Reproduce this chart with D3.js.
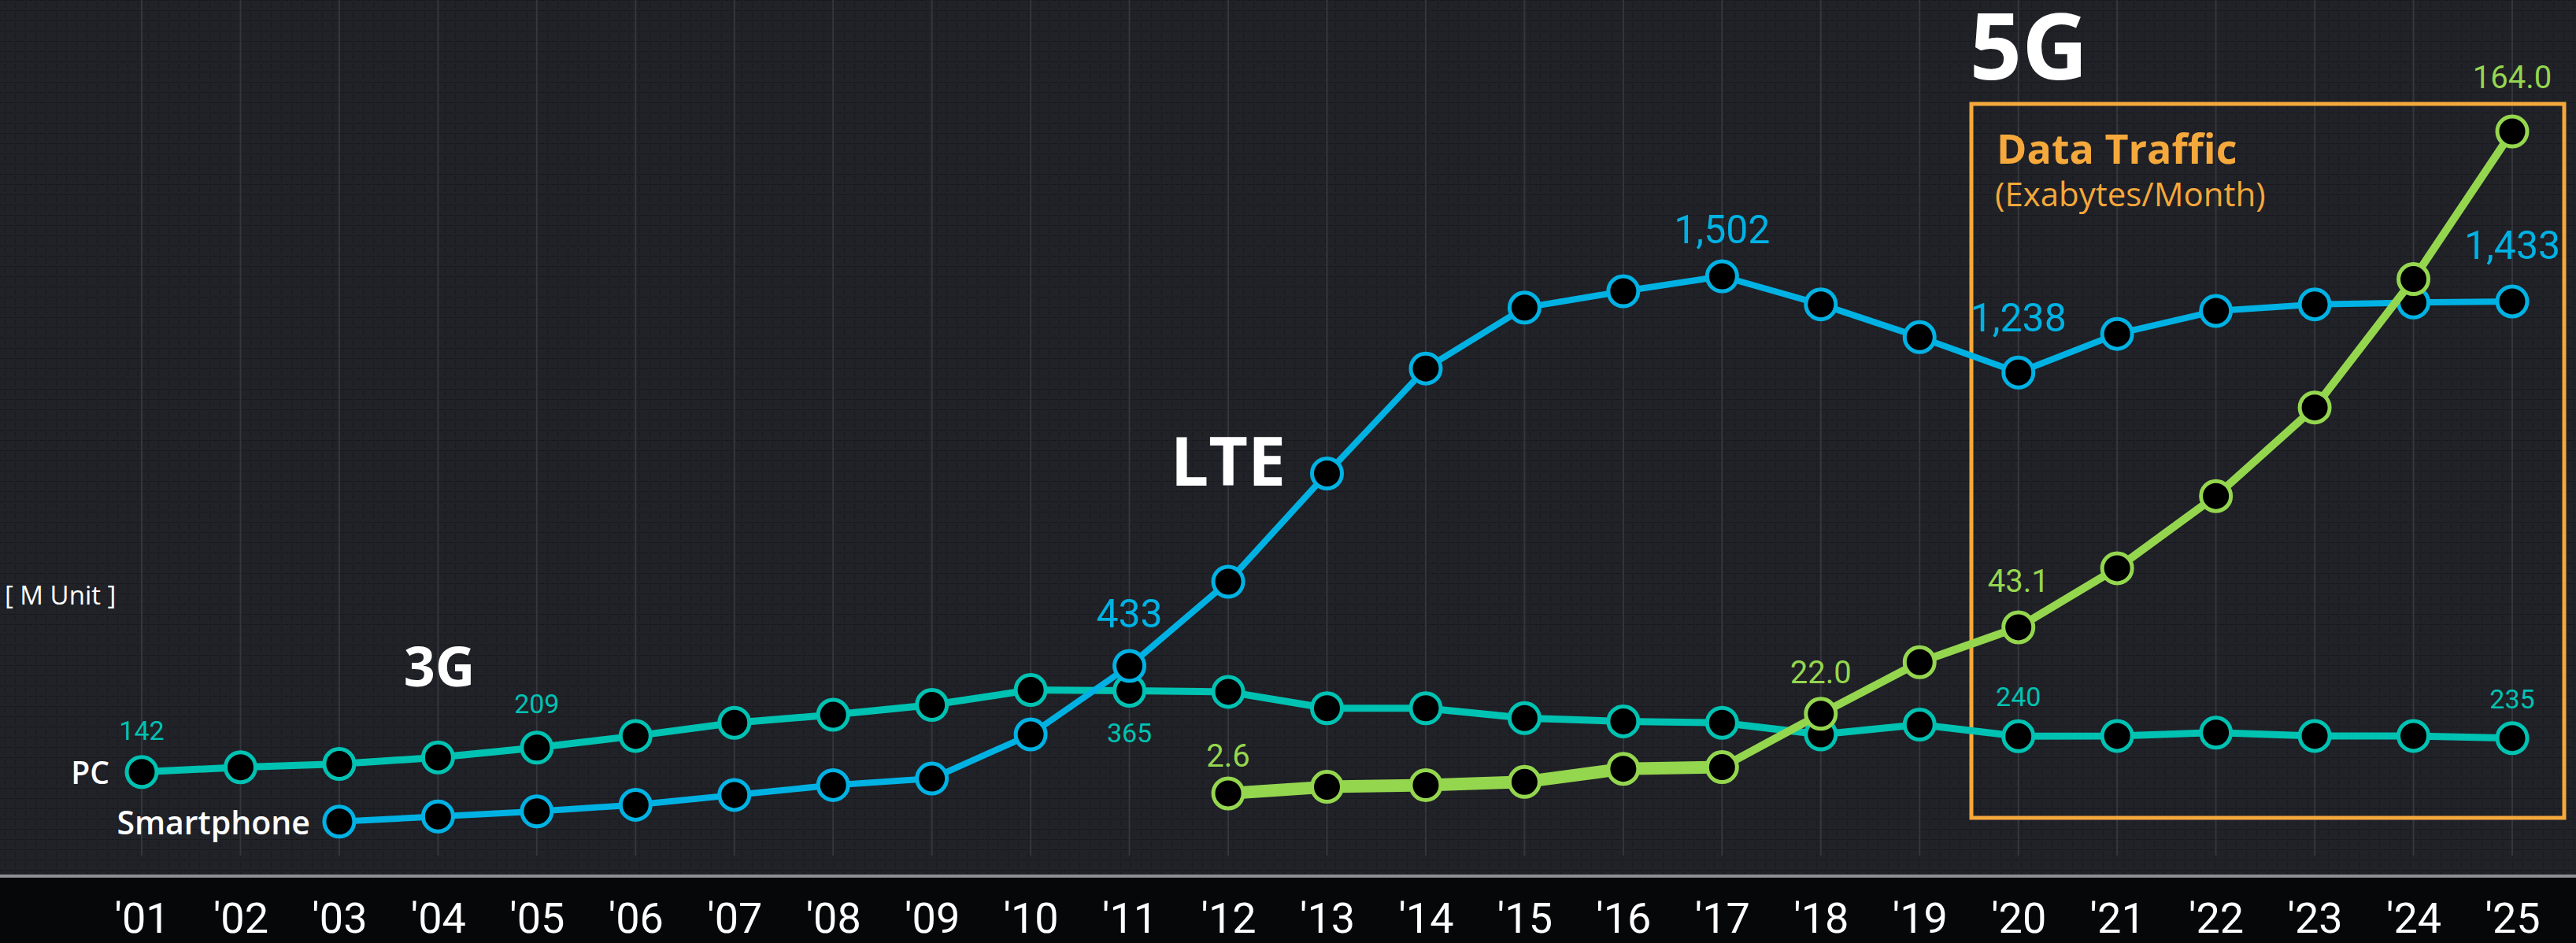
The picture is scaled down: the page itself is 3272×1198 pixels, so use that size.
<!DOCTYPE html>
<html>
<head>
<meta charset="utf-8">
<script src="https://cdn.jsdelivr.net/npm/d3@7"></script>
<style>
  html, body { margin: 0; padding: 0; background: #1f2127; overflow: hidden; }
  svg { display: block; }
</style>
</head>
<body>
<div class="chart"></div>
<script>
// data
var years = ["'01","'02","'03","'04","'05","'06","'07","'08","'09","'10","'11","'12","'13",
             "'14","'15","'16","'17","'18","'19","'20","'21","'22","'23","'24","'25"];

// PC shipments, M unit (2001-2025)
var pc = [142,155,164,182,209,241,277,299,326,367,365,362,317,317,290,281,277,245,272,240,241,250,241,241,235];

// smartphone shipments, M unit (2003-2025)
var phone = [null,null,6,20,34,52,79,106,124,245,433,664,961,1249,1416,1461,1502,1425,1335,1238,1344,1407,1425,1430,1433];

// data traffic, exabytes / month (2012-2025)
var traffic = [null,null,null,null,null,null,null,null,null,null,null,2.6,4.2,4.6,5.4,8.6,9.0,22.0,34.6,43.1,57.5,75.1,96.7,128,164.0];

// which points carry a value label
var pcLabelled = [0,4,10,19,24];
var phoneLabelled = [10,16,19,24];
var trafficLabelled = [11,17,19,24];

var W = 3272, H = 1198;

var svg = d3.select("div.chart")
            .append("svg")
            .attr("width", W)
            .attr("height", H);

// faint woven texture of the background
var defs = svg.append("defs");
var pat = defs.append("pattern")
    .attr("id", "grain")
    .attr("patternUnits", "userSpaceOnUse")
    .attr("width", 13)
    .attr("height", 13);
pat.append("rect").attr("width", 13).attr("height", 13).attr("fill", "#202228");
pat.append("line").attr("x1", 0).attr("x2", 13).attr("y1", 0.5).attr("y2", 0.5)
   .attr("stroke", "#15171a").attr("stroke-width", 1).attr("stroke-dasharray", "2,1");
pat.append("line").attr("x1", 6.5).attr("x2", 6.5).attr("y1", 3).attr("y2", 10)
   .attr("stroke", "#17191d").attr("stroke-width", 1.5).attr("stroke-dasharray", "2,1");

svg.append("rect")
   .attr("width", W).attr("height", 1112)
   .attr("fill", "url(#grain)");

// scales
var x = d3.scalePoint()
    .domain(years)
    .range([180, 3191]);

var yUnit = d3.scaleLinear()
    .domain([0, 1502])
    .range([1046.5, 351]);

var yTraffic = d3.scaleLinear()
    .domain([0, 164])
    .range([1021.5, 167]);

// vertical grid lines
svg.append("g")
   .selectAll("line")
   .data(years)
   .enter()
   .append("line")
     .attr("x1", d => x(d)).attr("x2", d => x(d))
     .attr("y1", 0).attr("y2", 1087)
     .attr("stroke", "#33363d")
     .attr("stroke-width", 2);

// bottom band with axis
svg.append("rect")
   .attr("x", 0).attr("y", 1112).attr("width", W).attr("height", H - 1112)
   .attr("fill", "#060708");
svg.append("rect")
   .attr("x", 0).attr("y", 1111).attr("width", W).attr("height", 4)
   .attr("fill", "#8d8f94");

var xAxis = d3.axisBottom(x).tickSize(0).tickPadding(0);
var axisG = svg.append("g")
   .attr("transform", "translate(0,1185)")
   .call(xAxis);
axisG.select(".domain").remove();
axisG.selectAll("text")
   .attr("dy", 0)
   .attr("fill", "#ffffff")
   .attr("font-family", "'Liberation Sans Narrow', Roboto, sans-serif")
   .attr("font-size", 54);

// 5G box
svg.append("rect")
   .attr("x", 2504).attr("y", 132).attr("width", 753).attr("height", 907)
   .attr("fill", "none")
   .attr("stroke", "#f5a83b")
   .attr("stroke-width", 5);

function drawSeries(vals, yScale, color, width){
  var pts = vals.map((v, i) => ({v: v, i: i})).filter(d => d.v != null);
  var line = d3.line()
      .x(d => x(years[d.i]))
      .y(d => yScale(d.v));
  var g = svg.append("g");
  if (Array.isArray(width)) {
    // thicker early stretch, thinner after
    g.append("path").datum(pts.filter(d => d.i <= width[2]))
      .attr("d", line).attr("fill", "none").attr("stroke", color)
      .attr("stroke-width", width[0]).attr("stroke-linejoin", "round");
    g.append("path").datum(pts.filter(d => d.i >= width[2]))
      .attr("d", line).attr("fill", "none").attr("stroke", color)
      .attr("stroke-width", width[1]).attr("stroke-linejoin", "round");
  } else {
    g.append("path").datum(pts)
      .attr("d", line).attr("fill", "none").attr("stroke", color)
      .attr("stroke-width", width).attr("stroke-linejoin", "round");
  }
  g.selectAll("circle")
    .data(pts)
    .enter()
    .append("circle")
      .attr("cx", d => x(years[d.i]))
      .attr("cy", d => yScale(d.v))
      .attr("r", 19)
      .attr("fill", "#000")
      .attr("stroke", color)
      .attr("stroke-width", 5);
}

drawSeries(pc, yUnit, "#00c2b2", 9);
drawSeries(phone, yUnit, "#00b2e3", 8);
drawSeries(traffic, yTraffic, "#95d64f", [16, 10, 16]);

// value labels
var fmtUnit = d3.format(",");
var fmtTraffic = d3.format(".1f");
var numFont = "'Liberation Sans Narrow', Roboto, sans-serif";

function labels(idx, vals, yScale, fmt, color, size, offsets){
  svg.append("g")
    .selectAll("text")
    .data(idx)
    .enter()
    .append("text")
      .attr("x", i => x(years[i]) + (offsets[i] ? offsets[i][0] : 0))
      .attr("y", i => yScale(vals[i]) + (offsets[i] ? offsets[i][1] : -40))
      .attr("text-anchor", "middle")
      .attr("fill", color)
      .attr("font-family", numFont)
      .attr("font-size", size)
      .text(i => fmt(vals[i]));
}

labels(pcLabelled, pc, yUnit, fmtUnit, "#00c2b2", 34,
       {0: [0, -41], 4: [0, -44], 10: [0, 66], 19: [0, -38], 24: [0, -38]});
labels(phoneLabelled, phone, yUnit, fmtUnit, "#00b2e3", 50,
       {10: [0, -49], 16: [0, -42], 19: [0, -52], 24: [0, -54]});
labels(trafficLabelled, traffic, yTraffic, fmtTraffic, "#95d64f", 40,
       {11: [0, -34], 17: [0, -39], 19: [0, -45], 24: [0, -55]});

// annotations
var head = "'Open Sans', 'Noto Sans', sans-serif";
svg.append("text").attr("x", 558).attr("y", 872).attr("text-anchor", "middle")
   .attr("fill", "#fff").attr("font-family", head).attr("font-weight", 700)
   .attr("font-size", 70).text("3G");
svg.append("text").attr("x", 1560).attr("y", 617).attr("text-anchor", "middle")
   .attr("fill", "#fff").attr("font-family", head).attr("font-weight", 700)
   .attr("font-size", 86).text("LTE");
svg.append("text").attr("x", 2577).attr("y", 101).attr("text-anchor", "middle")
   .attr("fill", "#fff").attr("font-family", head).attr("font-weight", 700)
   .attr("font-size", 116).text("5G");

svg.append("text").attr("x", 2536).attr("y", 208)
   .attr("fill", "#f5a83b").attr("font-family", head).attr("font-weight", 700)
   .attr("font-size", 52).text("Data Traffic");
svg.append("text").attr("x", 2534).attr("y", 262)
   .attr("fill", "#f5a83b").attr("font-family", head)
   .attr("font-size", 42).text("(Exabytes/Month)");

svg.append("text").attr("x", 6).attr("y", 768)
   .attr("fill", "#fff").attr("font-family", head)
   .attr("font-size", 33).text("[ M Unit ]");
svg.append("text").attr("x", 139).attr("y", 996).attr("text-anchor", "end")
   .attr("fill", "#fff").attr("font-family", head).attr("font-weight", 600)
   .attr("font-size", 39).text("PC");
svg.append("text").attr("x", 394).attr("y", 1060).attr("text-anchor", "end")
   .attr("fill", "#fff").attr("font-family", head).attr("font-weight", 600)
   .attr("font-size", 41).text("Smartphone");
</script>
</body>
</html>
